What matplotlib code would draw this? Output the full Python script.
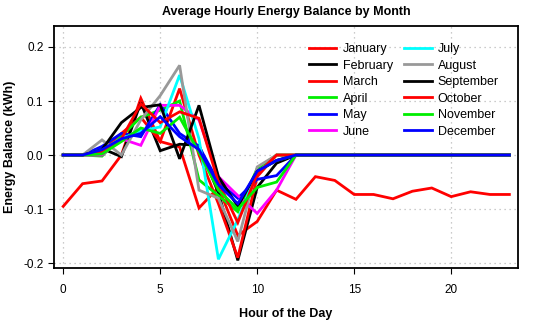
import matplotlib
matplotlib.use("Agg")
import matplotlib.pyplot as plt
import numpy as np

plt.rcParams['font.family'] = ['Liberation Sans', 'DejaVu Sans']

hours = list(range(24))
months = ["January", "February", "March", "April", "May", "June",
          "July", "August", "September", "October", "November", "December"]
colors = ["red", "black", "red", "#00ee00", "blue", "magenta",
          "cyan", "#999999", "black", "red", "#00ee00", "blue"]

# hours 0..12, all months except January are zero after hour 12
jan = [-0.095, -0.053, -0.048, 0.0, 0.105, 0.025, 0.015, -0.098, -0.060, -0.149,
       -0.123, -0.065, -0.082, -0.040, -0.047, -0.073, -0.073, -0.081, -0.067,
       -0.061, -0.077, -0.068, -0.073, -0.073]
feb = [0, 0, 0.012, -0.003, 0.097, 0.008, 0.020, 0.018, -0.070, -0.195, -0.060, -0.015, 0]
mar = [0, 0, 0.010, 0.040, 0.070, 0.025, 0.123, 0.000, -0.090, -0.190, -0.040, 0, 0]
apr = [0, 0, -0.002, 0.035, 0.070, 0.083, 0.100, -0.046, -0.075, -0.105, -0.025, 0, 0]
may = [0, 0, 0.016, 0.040, 0.034, 0.093, 0.040, 0.016, -0.050, -0.080, -0.045, -0.038, 0]
jun = [0, 0, 0.000, 0.030, 0.018, 0.092, 0.092, 0.065, -0.040, -0.075, -0.108, -0.065, 0]
jul = [0, 0, 0.010, 0.030, 0.045, 0.052, 0.148, 0.030, -0.193, -0.120, -0.030, -0.010, 0]
aug = [0, 0, 0.028, 0.000, 0.065, 0.110, 0.166, -0.065, -0.080, -0.160, -0.022, 0, 0]
sep = [0, 0, 0.010, 0.060, 0.088, 0.093, -0.007, 0.092, -0.040, -0.095, -0.030, -0.010, 0]
oct_ = [0, 0, 0.005, 0.030, 0.095, 0.060, 0.080, 0.068, -0.050, -0.125, -0.035, 0, 0]
nov = [0, 0, 0.002, 0.025, 0.050, 0.040, 0.070, 0.005, -0.065, -0.100, -0.060, -0.050, 0]
dec = [0, 0, 0.010, 0.030, 0.040, 0.071, 0.034, 0.010, -0.055, -0.090, -0.030, -0.010, 0]

series = [jan, feb, mar, apr, may, jun, jul, aug, sep, oct_, nov, dec]

fig = plt.figure(figsize=(5.5, 3.24), dpi=100)
ax = fig.add_axes([0.098, 0.173, 0.844, 0.747])

for name, col, vals in zip(months, colors, series):
    vals = list(vals) + [0] * (24 - len(vals))
    ax.plot(hours, vals, color=col, lw=2, label=name, solid_joinstyle='miter')

ax.set_xlim(-0.48, 23.45)
ax.set_ylim(-0.209, 0.239)
ax.set_xticks([0, 5, 10, 15, 20])
ax.set_yticks([-0.2, -0.1, 0.0, 0.1, 0.2])
ax.set_yticklabels(["-0.2", "-0.1", "0.0", "0.1", "0.2"])
ax.grid(True, color="#bbbbbb", linestyle=(0, (1, 3)), lw=0.9)
ax.tick_params(direction="out", length=4.5, width=0.8, labelsize=8.5)
ax.tick_params(axis="x", pad=7)
ax.tick_params(axis="y", pad=3)
for s in ax.spines.values():
    s.set_linewidth(1.3)

ax.set_title("Average Hourly Energy Balance by Month", fontsize=9,
             fontweight="bold", pad=8)
ax.set_xlabel("Hour of the Day", fontsize=9, fontweight="bold", labelpad=9)
ax.set_ylabel("Energy Balance (kWh)", fontsize=9, fontweight="bold", labelpad=5)

ax.legend(ncol=2, frameon=False, loc="upper right", bbox_to_anchor=(0.975, 0.96),
          fontsize=9, handlelength=2.2, handletextpad=0.5, columnspacing=0.9,
          labelspacing=0.36, borderaxespad=0.2)

fig.savefig("out.png", dpi=100)
